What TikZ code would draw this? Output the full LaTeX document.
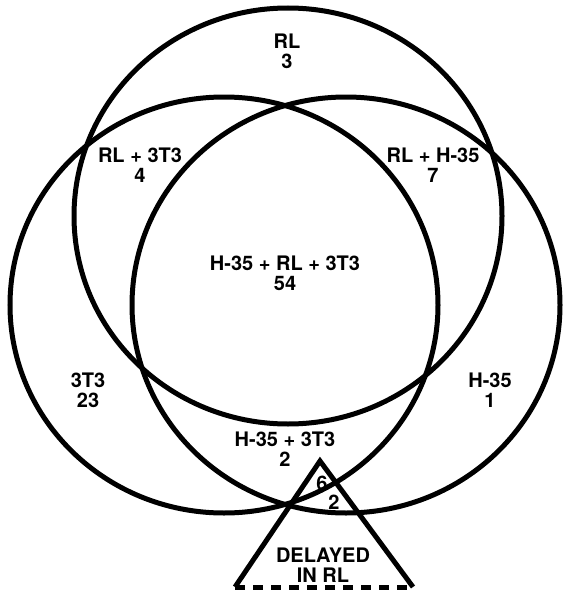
\documentclass[tikz,border=0pt]{standalone}
\usepackage{fontspec}
\setmainfont{TeX Gyre Heros}
\begin{document}
\begin{tikzpicture}[x=1pt,y=-1pt,
  ring/.style={line width=5pt},
  lbl/.style={font=\bfseries\fontsize{20}{20}\selectfont, align=center, inner sep=0pt},
  tri/.style={line width=5pt, line join=miter},
  base/.style={line width=5pt, dash pattern=on 10pt off 8pt}]
\useasboundingbox (0,0) rectangle (563,594);
% circles
\draw[ring] (288,216) ellipse [x radius=214pt, y radius=208pt];
\draw[ring] (224,305) ellipse [x radius=214pt, y radius=208pt];
\draw[ring] (346,305) ellipse [x radius=214pt, y radius=208pt];
% triangle
\coordinate (apex) at (320,461);
\coordinate (bl) at (235,587);
\coordinate (br) at (413,587);
\draw[tri] (bl) -- (apex) -- (br);
\draw[base] (bl) -- (br);
% labels
\node[lbl] (rl) at (287,51) {RL\\3};
\node[lbl] (rl3t3) at (140,165) {RL + 3T3\\4};
\node[lbl] (rlh) at (433,165) {RL + H-35\\7};
\node[lbl] (all) at (285,273) {H-35 + RL + 3T3\\54};
\node[lbl] (t3) at (88,390) {3T3\\23};
\node[lbl] (h) at (490,390) {H-35\\1};
\node[lbl] (h3t3) at (285,449) {H-35 + 3T3\\2};
\node[lbl] (six) at (322,483) {6};
\node[lbl] (two) at (334,502) {2};
\node[lbl] (del) at (323,565) {DELAYED\\IN RL};
\end{tikzpicture}
\end{document}
